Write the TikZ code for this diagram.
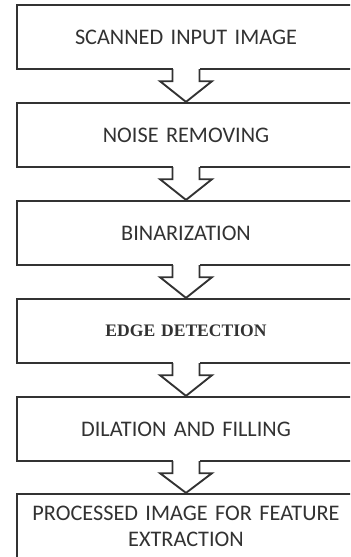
\documentclass[tikz,border=0pt]{standalone}
\usepackage{fontspec}
\setmainfont{Carlito}
\newfontfamily\timesfont{Liberation Serif}
\usetikzlibrary{calc}

\definecolor{inkgray}{RGB}{50,50,50}

\tikzset{
	stagebox/.style={draw=inkgray,line width=1.6pt,minimum width=101.4mm,minimum height=19.3mm,
		text width=97mm,align=center,inner sep=0pt,text=inkgray,font=\fontsize{19}{23}\selectfont},
	hollowarrow/.style={draw=inkgray,line width=1.6pt,line join=miter}
}

\begin{document}
\begin{tikzpicture}[x=0.3mm,y=0.3mm]
	\useasboundingbox (0,0) rectangle (350,557);
	\clip (0,0) rectangle (350,557);
	\node (scan) at (186,520) [stagebox] {SCANNED INPUT IMAGE};
	\node (noise) at (186,422) [stagebox] {NOISE REMOVING};
	\node (binar) at (186,324) [stagebox] {BINARIZATION};
	\node (edge) at (186,226) [stagebox,font=\timesfont\bfseries\fontsize{15}{18}\selectfont] {EDGE DETECTION};
	\node (dilat) at (186,128) [stagebox] {DILATION AND FILLING};
	\node (proc) at (186,31) [stagebox] {PROCESSED IMAGE FOR FEATURE\\[-1pt] EXTRACTION};

	% hollow block arrows between the stages
	\foreach \a/\b in {scan/noise,noise/binar,binar/edge,edge/dilat,dilat/proc}{
		\fill[white] ($(\a.south)+(-13.5,2)$) rectangle ($(\a.south)+(13.5,-8)$);
		\draw[hollowarrow] ($(\a.south)+(-13.5,0.9)$) -- ++(0,-12) -- ++(-12.5,0)
			-- (\b.north) -- ($(\a.south)+(26,-11.1)$) -- ++(-12.5,0) -- ++(0,12);
	}
\end{tikzpicture}
\end{document}
